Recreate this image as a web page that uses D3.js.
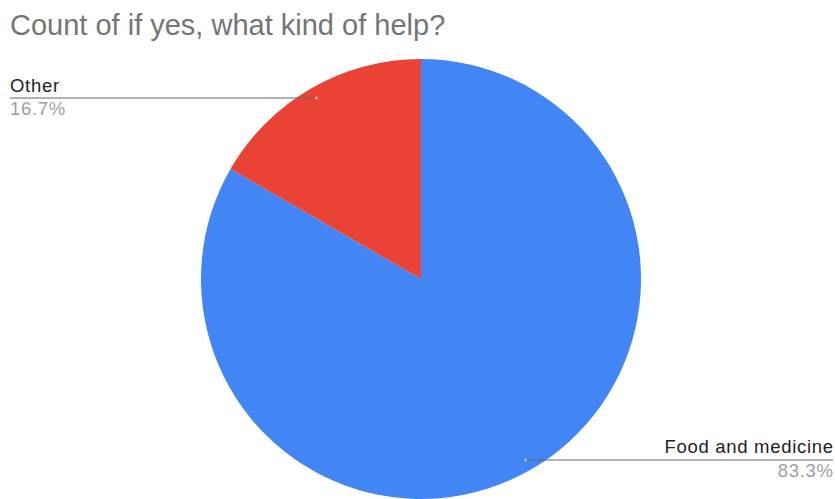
<!DOCTYPE html>
<html>
<head>
<meta charset="utf-8">
<script src="https://cdn.jsdelivr.net/npm/d3@7"></script>
<style>
  html, body { margin: 0; padding: 0; background: #fff; }
  svg { display: block; font-family: "Liberation Sans", Arial, sans-serif; }
</style>
</head>
<body>
<svg id="chart" width="835" height="499"></svg>
<script>
// Responses to "if yes, what kind of help?"
const categories = ["Food and medicine", "Other"];
const counts = [5, 1];
const colors = ["#4285F4", "#EA4335"];
const titleText = "Count of if yes, what kind of help?";

const W = 835, H = 499;
const cx = 421, cy = 279, radius = 220;

const svg = d3.select("#chart");

svg.append("text")
  .attr("x", 10).attr("y", 35)
  .attr("font-size", 29)
  .attr("fill", "#757575")
  .text(titleText);

const total = d3.sum(counts);
const data = categories.map((c, i) => ({ name: c, value: counts[i], color: colors[i] }));

const pie = d3.pie().value(d => d.value).sort(null);
const arcs = pie(data);
const arc = d3.arc().innerRadius(0).outerRadius(radius);

const g = svg.append("g").attr("transform", `translate(${cx},${cy})`);
g.selectAll("path").data(arcs).join("path")
  .attr("d", arc)
  .attr("fill", d => d.data.color);

const fmt = d3.format(".1%");
const spacing = 0.7;

arcs.forEach(a => {
  const mid = (a.startAngle + a.endAngle) / 2;
  const px = cx + Math.sin(mid) * radius * 0.95;
  const py = cy - Math.cos(mid) * radius * 0.95;
  const right = Math.sin(mid) > 0;
  const endX = right ? 833 : 10;

  svg.append("line")
    .attr("x1", px).attr("y1", py)
    .attr("x2", endX).attr("y2", py)
    .attr("stroke", "#666").attr("stroke-width", 1.2);
  svg.append("circle")
    .attr("cx", px).attr("cy", py).attr("r", 1.5)
    .attr("fill", "#bbb");

  const anchor = right ? "end" : "start";
  const tx = right ? endX + spacing : endX;
  svg.append("text")
    .attr("x", tx).attr("y", py - 6.5)
    .attr("text-anchor", anchor)
    .attr("font-size", 18.5)
    .attr("letter-spacing", spacing)
    .attr("fill", "#222")
    .text(a.data.name);
  svg.append("text")
    .attr("x", tx).attr("y", py + 17)
    .attr("text-anchor", anchor)
    .attr("font-size", 18.5)
    .attr("letter-spacing", spacing)
    .attr("fill", "#9e9e9e")
    .text(fmt(a.data.value / total));
});
</script>
</body>
</html>
